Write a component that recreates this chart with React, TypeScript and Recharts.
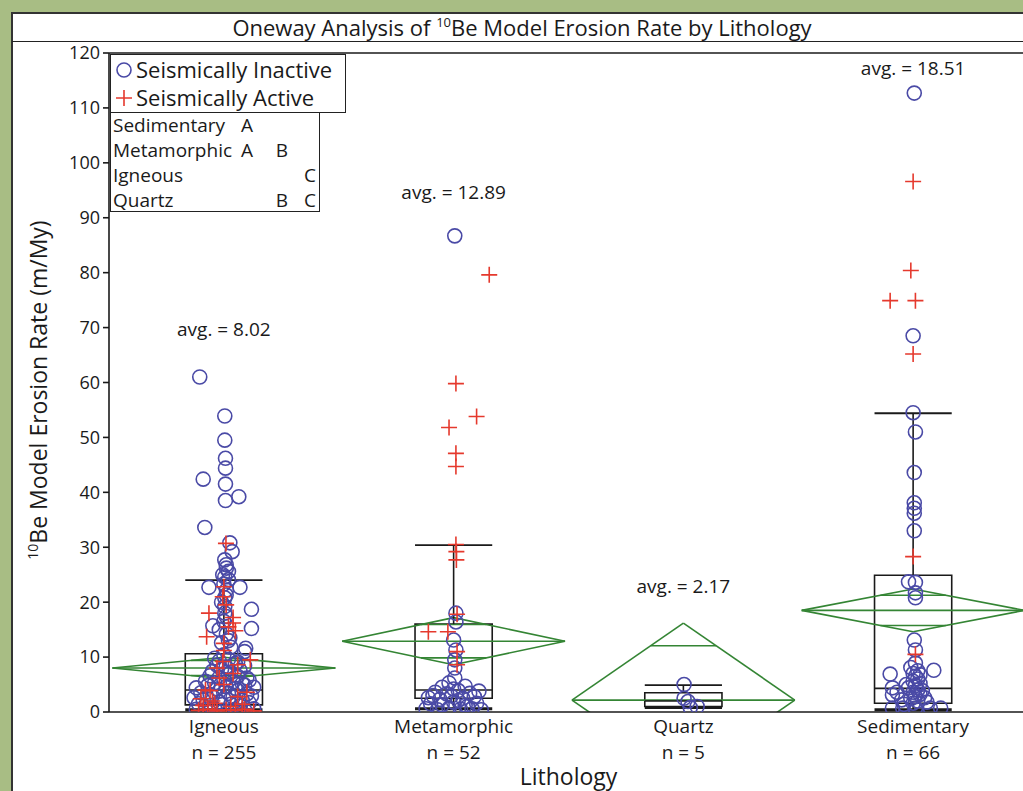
import React from 'react';
import {
  ComposedChart,
  Scatter,
  XAxis,
  YAxis,
  ReferenceLine,
  ReferenceArea,
  ReferenceDot,
} from 'recharts';

// ---------- data ----------
const categories = ['Igneous', 'Metamorphic', 'Quartz', 'Sedimentary'];
const counts = [255, 52, 5, 66];
const means = [8.02, 12.89, 2.17, 18.51];
const meanCI = [1.96, 4.3, 14.0, 3.9];
const q1 = [1.3, 2.5, 1.0, 1.6];
const medians = [4.0, 4.0, 2.0, 4.3];
const q3 = [10.6, 16.0, 3.5, 24.9];
const whiskerLow = [0.4, 0.6, 0.8, 0.4];
const whiskerHigh = [24.0, 30.4, 4.9, 54.4];
const avgLabelY = [69.7, 94.7, 22.9, 117.2];
const yTicks = [0, 10, 20, 30, 40, 50, 60, 70, 80, 90, 100, 110, 120];
const xTicks = [1, 2, 3, 4];

const tukeyRows = ['Sedimentary', 'Metamorphic', 'Igneous', 'Quartz'];
const tukeyA = ['A', 'A', '', ''];
const tukeyB = ['', 'B', '', 'B'];
const tukeyC = ['', '', 'C', 'C'];

// [jitter offset, erosion rate]
const igneousInactive: [number, number][] = [
  [-0.105, 61.0], [0.004, 53.9], [0.004, 49.5], [0.007, 46.2], [0.007, 44.4], [-0.09, 42.4],
  [0.007, 41.5], [0.065, 39.2], [0.007, 38.5], [-0.083, 33.6], [0.026, 30.8], [0.036, 29.2],
  [0.004, 27.7], [0.011, 26.2], [0.02, 25.6], [0.004, 24.6], [-0.065, 22.7], [0.07, 22.7],
  [0.011, 22.2], [0.004, 20.8], [0.004, 19.2], [0.12, 18.7], [0.004, 18.0], [-0.048, 15.7],
  [0.12, 15.2], [-0.02, 15.0], [0.011, 14.2], [0.026, 13.5], [0.095, 11.6], [0.09, 11.0],
  [-0.04, 9.8],
  [-0.12, 0.5], [-0.08, 0.4], [-0.04, 0.6], [0.0, 0.3], [0.05, 0.5], [0.09, 0.4], [0.13, 0.6],
  [-0.11, 1.5], [-0.06, 1.2], [-0.02, 1.8], [0.03, 1.4], [0.07, 1.1], [0.11, 1.7],
  [-0.13, 2.6], [-0.09, 2.2], [-0.05, 2.9], [0.0, 2.4], [0.04, 2.7], [0.08, 2.1], [0.12, 2.9],
  [-0.1, 3.5], [-0.06, 3.2], [-0.02, 3.8], [0.02, 3.4], [0.06, 3.9], [0.1, 3.3],
  [-0.12, 4.4], [-0.07, 4.8], [-0.03, 4.2], [0.01, 4.6], [0.05, 4.3], [0.09, 4.9], [0.13, 4.5],
  [-0.08, 5.6], [-0.04, 5.3], [0.0, 5.9], [0.04, 5.5], [0.08, 5.2], [0.11, 5.8],
  [-0.06, 6.6], [-0.02, 6.3], [0.02, 6.9], [0.06, 6.5], [0.1, 6.2],
  [-0.05, 7.4], [-0.01, 7.8], [0.03, 7.2], [0.07, 7.6],
  [-0.03, 8.5], [0.01, 8.2], [0.05, 8.8], [0.09, 8.4],
  [-0.02, 9.3], [0.02, 9.6], [0.06, 9.1],
  [0.0, 10.4], [0.03, 11.8], [-0.01, 12.6], [0.02, 13.0], [0.0, 16.5], [0.01, 17.4],
  [-0.01, 20.0], [0.01, 21.3], [0.0, 23.3], [0.02, 24.1], [-0.005, 25.0], [0.01, 26.8],
];
const igneousActive: [number, number][] = [
  [0.009, 30.7], [-0.005, 21.0], [-0.065, 18.0], [0.04, 17.2], [0.04, 16.2], [0.02, 15.5],
  [-0.075, 13.7], [0.05, 14.8], [0.0, 12.5], [-0.005, 9.2], [0.115, 9.5], [-0.03, 8.0],
  [0.06, 8.6], [0.0, 11.2], [0.01, 19.5], [0.0, 22.8],
  [-0.11, 0.3], [-0.07, 0.5], [-0.03, 0.2], [0.01, 0.4], [0.05, 0.3], [0.09, 0.5], [0.13, 0.2],
  [-0.09, 1.2], [-0.04, 1.6], [0.03, 1.0], [0.08, 1.4], [-0.1, 2.4], [-0.06, 3.9], [0.06, 2.8],
  [-0.08, 4.0], [0.0, 5.0], [0.1, 3.6], [-0.02, 6.2], [0.04, 7.0], [-0.05, 2.0],
];
const metamorphicInactive: [number, number][] = [
  [0.005, 86.7], [0.01, 18.0], [0.01, 16.4], [0.0, 13.1], [0.01, 11.3], [0.005, 9.5],
  [0.005, 8.0], [0.005, 6.2],
  [-0.12, 0.6], [-0.07, 0.4], [-0.02, 0.7], [0.03, 0.5], [0.08, 0.6], [0.12, 0.4],
  [-0.1, 1.5], [-0.05, 1.3], [0.0, 1.8], [0.05, 1.2], [0.1, 1.6],
  [-0.11, 2.6], [-0.06, 2.3], [-0.01, 2.9], [0.04, 2.5], [0.09, 2.8],
  [-0.08, 3.6], [-0.03, 3.3], [0.02, 3.9], [0.07, 3.4], [0.11, 3.8],
  [-0.05, 4.5], [0.0, 4.2], [0.05, 4.7], [-0.02, 5.3], [0.02, 2.1], [-0.09, 3.0], [0.06, 1.0],
];
const metamorphicActive: [number, number][] = [
  [0.155, 79.6], [0.01, 59.8], [0.1, 53.8], [-0.02, 51.8], [0.01, 47.1], [0.01, 44.7],
  [0.01, 30.5], [0.012, 29.2], [0.012, 27.7], [-0.11, 14.6], [-0.025, 14.6], [0.015, 17.8],
  [0.015, 11.0], [0.015, 8.6],
];
const quartzInactive: [number, number][] = [
  [0.003, 5.0], [0.003, 2.5], [0.02, 1.9], [0.06, 1.0], [0.03, 0.8],
];
const quartzActive: [number, number][] = [];
const sedimentaryInactive: [number, number][] = [
  [0.005, 112.7], [0.0, 68.5], [0.0, 54.5], [0.01, 51.0], [0.005, 43.6], [0.005, 38.1],
  [0.005, 37.1], [0.005, 36.2], [0.005, 33.0], [-0.02, 23.7], [0.01, 23.6], [0.01, 21.7],
  [0.01, 20.8], [0.005, 13.1], [0.01, 11.3], [0.01, 8.9], [0.09, 7.6], [-0.1, 6.9],
  [-0.09, 4.4], [-0.09, 3.1], [-0.09, 0.7], [-0.045, 0.7], [0.01, 0.7], [0.075, 0.7], [0.12, 0.7],
  [0.0, 1.6], [0.02, 2.0], [-0.01, 2.4], [0.01, 2.8], [0.03, 3.2], [0.0, 3.6], [0.02, 4.0],
  [-0.02, 4.4], [0.01, 4.8], [0.03, 5.2], [0.0, 5.6], [0.02, 6.0], [0.01, 6.5], [0.0, 7.0],
  [0.02, 7.5], [-0.01, 8.1], [-0.05, 2.2], [-0.07, 3.6], [0.05, 2.6], [0.06, 1.8],
  [-0.04, 1.4], [0.04, 3.9], [-0.03, 5.0], [0.03, 6.8],
];
const sedimentaryActive: [number, number][] = [
  [0.0, 96.6], [-0.01, 80.4], [-0.1, 74.9], [0.01, 74.9], [0.0, 65.2], [0.0, 28.3], [0.01, 10.5],
];

// ---------- styling ----------
const BLUE = '#4a4aa6';
const RED = '#e5392d';
const GREEN = '#348534';
const INK = '#1a1a1a';
const FONT = '"Open Sans", "DejaVu Sans", sans-serif';
const BOX_HALF = 0.168;
const DIAMOND_HALF = 0.485;

const inactiveGroups = [igneousInactive, metamorphicInactive, quartzInactive, sedimentaryInactive];
const activeGroups = [igneousActive, metamorphicActive, quartzActive, sedimentaryActive];

const toPoints = (groups: [number, number][][]) =>
  groups.flatMap((arr, i) => arr.map(([dx, v]) => ({ x: i + 1 + dx, y: v })));

const inactiveData = toPoints(inactiveGroups);
const activeData = toPoints(activeGroups);

const CircleShape = (p: any) => (
  <circle cx={p.cx} cy={p.cy} r={7} fill="none" stroke={BLUE} strokeWidth={1.6} />
);
const CrossShape = (p: any) => (
  <path
    d={`M${p.cx - 8},${p.cy}H${p.cx + 8}M${p.cx},${p.cy - 8}V${p.cy + 8}`}
    stroke={RED}
    strokeWidth={1.6}
    fill="none"
  />
);

const CatTick = (props: any) => {
  const { x, y, payload } = props;
  const i = Math.round(payload.value) - 1;
  return (
    <text x={x} y={y} textAnchor="middle" fill={INK} fontSize={19} fontFamily={FONT}>
      <tspan x={x} dy={21}>{categories[i]}</tspan>
      <tspan x={x} dy={26}>{`n = ${counts[i]}`}</tspan>
    </text>
  );
};

type Seg = { x1: number; y1: number; x2: number; y2: number; color: string; w: number; key: string };

const segments: Seg[] = [];
categories.forEach((_, i) => {
  const c = i + 1;
  const m = means[i];
  const h = meanCI[i];
  const w = DIAMOND_HALF;
  const o = h / Math.SQRT2;
  const ow = w * (1 - 1 / Math.SQRT2);
  // diamond
  segments.push({ x1: c - w, y1: m, x2: c, y2: m + h, color: GREEN, w: 1.6, key: `d1${i}` });
  segments.push({ x1: c, y1: m + h, x2: c + w, y2: m, color: GREEN, w: 1.6, key: `d2${i}` });
  segments.push({ x1: c + w, y1: m, x2: c, y2: m - h, color: GREEN, w: 1.6, key: `d3${i}` });
  segments.push({ x1: c, y1: m - h, x2: c - w, y2: m, color: GREEN, w: 1.6, key: `d4${i}` });
  segments.push({ x1: c - w, y1: m, x2: c + w, y2: m, color: GREEN, w: 1.6, key: `dm${i}` });
  segments.push({ x1: c - ow, y1: m + o, x2: c + ow, y2: m + o, color: GREEN, w: 1.6, key: `du${i}` });
  segments.push({ x1: c - ow, y1: m - o, x2: c + ow, y2: m - o, color: GREEN, w: 1.6, key: `dl${i}` });
  // whiskers
  segments.push({ x1: c, y1: q3[i], x2: c, y2: whiskerHigh[i], color: INK, w: 1.6, key: `wh${i}` });
  segments.push({ x1: c, y1: whiskerLow[i], x2: c, y2: q1[i], color: INK, w: 1.6, key: `wl${i}` });
  segments.push({ x1: c - BOX_HALF, y1: whiskerHigh[i], x2: c + BOX_HALF, y2: whiskerHigh[i], color: INK, w: 1.8, key: `ch${i}` });
  segments.push({ x1: c - BOX_HALF, y1: whiskerLow[i], x2: c + BOX_HALF, y2: whiskerLow[i], color: INK, w: 3, key: `cl${i}` });
  segments.push({ x1: c - BOX_HALF, y1: medians[i], x2: c + BOX_HALF, y2: medians[i], color: INK, w: 1.6, key: `md${i}` });
});

const legendText: React.CSSProperties = {
  position: 'absolute',
  fontSize: 22,
  lineHeight: '26px',
  color: INK,
  whiteSpace: 'nowrap',
};
const tukeyText: React.CSSProperties = {
  position: 'absolute',
  fontSize: 19,
  lineHeight: '22px',
  color: INK,
  whiteSpace: 'nowrap',
};

export default function App() {
  return (
    <div
      style={{
        position: 'absolute',
        left: 0,
        top: 0,
        width: 1023,
        height: 791,
        overflow: 'hidden',
        background: '#a8bd84',
        fontFamily: FONT,
      }}
    >
      {/* white panel */}
      <div
        style={{
          position: 'absolute',
          left: 11,
          top: 12,
          width: 1100,
          height: 800,
          background: '#ffffff',
          borderLeft: '2px solid #333',
          borderTop: '2px solid #333',
        }}
      />
      {/* title */}
      <div
        style={{
          position: 'absolute',
          left: 12,
          top: 13,
          width: 1020,
          height: 28,
          textAlign: 'center',
          fontSize: 22,
          lineHeight: '28px',
          color: INK,
          whiteSpace: 'nowrap',
        }}
      >
        Oneway Analysis of{' '}
        <span style={{ fontSize: 13, position: 'relative', top: -9 }}>10</span>Be Model Erosion Rate by
        Lithology
      </div>
      <div
        style={{ position: 'absolute', left: 12, top: 41, width: 1100, height: 0, borderTop: '1.5px solid #222' }}
      />
      {/* y axis title */}
      <div
        style={{
          position: 'absolute',
          left: 40,
          top: 390,
          transform: 'translate(-50%, -50%) rotate(-90deg)',
          fontSize: 23,
          lineHeight: '26px',
          color: INK,
          whiteSpace: 'nowrap',
        }}
      >
        <span style={{ fontSize: 14, position: 'relative', top: -9 }}>10</span>Be Model Erosion Rate (m/My)
      </div>

      {/* chart */}
      <div style={{ position: 'absolute', left: 0, top: 0 }}>
        <ComposedChart width={1040} height={791} margin={{ top: 53, right: 12, bottom: 0, left: 49 }}>
          <XAxis
            type="number"
            dataKey="x"
            domain={[0.5, 4.5]}
            ticks={xTicks}
            interval={0}
            allowDataOverflow
            height={79}
            tickLine={false}
            tickSize={0}
            tickMargin={0}
            axisLine={{ stroke: INK, strokeWidth: 1.6 }}
            tick={<CatTick />}
            label={{ value: 'Lithology', position: 'insideBottom', offset: 6, fontSize: 23, fill: INK }}
          />
          <YAxis
            type="number"
            dataKey="y"
            domain={[0, 120]}
            ticks={yTicks}
            interval={0}
            allowDataOverflow
            width={60}
            tickSize={6}
            tickMargin={3}
            tick={{ fontSize: 18, fill: INK }}
            axisLine={{ stroke: INK, strokeWidth: 1.6 }}
            tickLine={{ stroke: INK, strokeWidth: 1.6 }}
          />
          <ReferenceLine y={120} stroke={INK} strokeWidth={1.6} />
          <Scatter data={inactiveData} shape={CircleShape} isAnimationActive={false} />
          <Scatter data={activeData} shape={CrossShape} isAnimationActive={false} />
          {categories.map((_, i) => (
            <ReferenceArea
              key={`box${i}`}
              x1={i + 1 - BOX_HALF}
              x2={i + 1 + BOX_HALF}
              y1={q1[i]}
              y2={q3[i]}
              fill="none"
              fillOpacity={0}
              stroke={INK}
              strokeWidth={1.6}
              ifOverflow="visible"
            />
          ))}
          {segments.map((s) => (
            <ReferenceLine
              key={s.key}
              segment={[
                { x: s.x1, y: s.y1 },
                { x: s.x2, y: s.y2 },
              ]}
              stroke={s.color}
              strokeWidth={s.w}
              ifOverflow="hidden"
            />
          ))}
          {categories.map((_, i) => (
            <ReferenceDot
              key={`avg${i}`}
              x={i + 1}
              y={avgLabelY[i]}
              r={0}
              stroke="none"
              fill="none"
              label={{ value: `avg. = ${means[i].toFixed(2)}`, position: 'center', fontSize: 19, fill: INK }}
            />
          ))}
        </ComposedChart>
      </div>

      {/* legend: markers */}
      <div
        style={{
          position: 'absolute',
          left: 110,
          top: 54,
          width: 236,
          height: 59,
          border: '1.5px solid #222',
          boxSizing: 'border-box',
          background: '#fff',
        }}
      >
        <svg style={{ position: 'absolute', left: 4, top: 5 }} width={20} height={50}>
          <circle cx={9} cy={10} r={7} fill="none" stroke={BLUE} strokeWidth={1.6} />
          <path d="M1,38H17M9,30V46" stroke={RED} strokeWidth={1.6} fill="none" />
        </svg>
        <div style={{ ...legendText, left: 25, top: 1 }}>Seismically Inactive</div>
        <div style={{ ...legendText, left: 25, top: 29 }}>Seismically Active</div>
      </div>
      {/* legend: connecting letters */}
      <div
        style={{
          position: 'absolute',
          left: 110,
          top: 112,
          width: 210,
          height: 100,
          border: '1.5px solid #222',
          boxSizing: 'border-box',
          background: '#fff',
        }}
      >
        {tukeyRows.map((r, i) => (
          <React.Fragment key={r}>
            <div style={{ ...tukeyText, left: 2, top: 1 + i * 25 }}>{r}</div>
            <div style={{ ...tukeyText, left: 128, width: 16, textAlign: 'center', top: 1 + i * 25 }}>{tukeyA[i]}</div>
            <div style={{ ...tukeyText, left: 163, width: 16, textAlign: 'center', top: 1 + i * 25 }}>{tukeyB[i]}</div>
            <div style={{ ...tukeyText, left: 191, width: 16, textAlign: 'center', top: 1 + i * 25 }}>{tukeyC[i]}</div>
          </React.Fragment>
        ))}
      </div>
    </div>
  );
}
